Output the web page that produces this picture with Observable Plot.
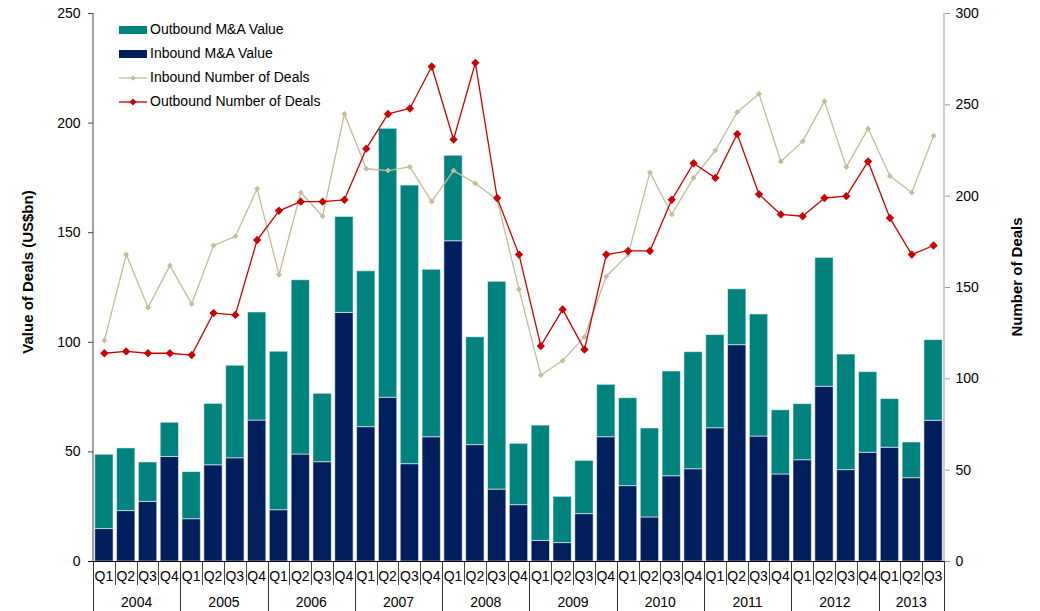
<!DOCTYPE html>
<html><head><meta charset="utf-8">
<script src="https://cdn.jsdelivr.net/npm/d3@7"></script>
<script src="https://cdn.jsdelivr.net/npm/@observablehq/plot@0.6"></script>
<style>body{margin:0;background:#fff} svg{display:block}</style>
</head><body><div id="chart"></div>
<script>
const quarterLabels = ["Q1","Q2","Q3","Q4","Q1","Q2","Q3","Q4","Q1","Q2","Q3","Q4","Q1","Q2","Q3","Q4","Q1","Q2","Q3","Q4","Q1","Q2","Q3","Q4","Q1","Q2","Q3","Q4","Q1","Q2","Q3","Q4","Q1","Q2","Q3","Q4","Q1","Q2","Q3"];
const yearLabels = ["2004","2004","2004","2004","2005","2005","2005","2005","2006","2006","2006","2006","2007","2007","2007","2007","2008","2008","2008","2008","2009","2009","2009","2009","2010","2010","2010","2010","2011","2011","2011","2011","2012","2012","2012","2012","2013","2013","2013"];
const inboundValue = [14.8,23.0,27.2,47.7,19.3,43.9,47.1,64.3,23.4,48.8,45.3,113.4,61.3,74.7,44.4,56.7,146.1,53.1,32.8,25.7,9.4,8.4,21.6,56.7,34.4,20.1,38.9,42.1,60.8,98.7,57.0,39.7,46.2,79.7,41.7,49.6,51.9,38.0,64.2];
const outboundValue = [33.9,28.6,18.0,15.6,21.5,28.0,42.2,49.3,72.3,79.5,31.2,43.8,71.1,122.7,127.1,76.4,39.0,49.2,94.8,28.0,52.6,21.1,24.3,23.9,40.1,40.6,47.8,53.4,42.5,25.5,55.7,29.3,25.6,58.8,52.7,36.8,22.2,16.3,36.8];
const inboundDeals = [121,168,139,162,141,173,178,204,157,202,189,245,215,214,216,197,214,207,198,149,102,110,123,156,168,213,190,210,225,246,256,219,230,252,216,237,211,202,233];
const outboundDeals = [114,115,114,114,113,136,135,176,192,197,197,198,226,245,248,271,231,273,199,168,118,138,116,168,170,170,198,218,210,234,201,190,189,199,200,219,188,168,173];
const leftTicks = [0,50,100,150,200,250];
const rightTicks = [0,50,100,150,200,250,300];
const seriesNames = ["Outbound M&A Value","Inbound M&A Value","Inbound Number of Deals","Outbound Number of Deals"];

const TEAL = "#00827F", NAVY = "#001F5C", TAN = "#C4BD97", RED = "#CC0000";
const FONT = "'Liberation Sans', Arial, sans-serif";
const k = 250 / 300;

const keys = quarterLabels.map((q, i) => yearLabels[i] + " " + q);
const valueRows = [];
keys.forEach((key, i) => {
  valueRows.push({key, series: seriesNames[1], value: inboundValue[i]});
  valueRows.push({key, series: seriesNames[0], value: outboundValue[i]});
});
const inRows = keys.map((key, i) => ({key, v: inboundDeals[i]}));
const outRows = keys.map((key, i) => ({key, v: outboundDeals[i]}));

function decorations(index, scales, values, dims) {
  const x = scales.x;
  const bw = typeof x.bandwidth === "function" ? x.bandwidth() : (x.bandwidth || 0);
  const centers = keys.map(kk => x(kk) + bw / 2);
  const step = centers[1] - centers[0];
  const {width, height, marginLeft, marginRight, marginTop, marginBottom} = dims;
  const xl = marginLeft, xr = width - marginRight, yb = height - marginBottom, yt = marginTop;
  const g = d3.create("svg:g").attr("font-family", FONT).attr("text-anchor", "start");
  g.append("line").attr("x1", xl).attr("x2", xl).attr("y1", yt).attr("y2", yb).attr("stroke", "#444");
  g.append("line").attr("x1", xr).attr("x2", xr).attr("y1", yt).attr("y2", yb).attr("stroke", "#999");
  keys.forEach((kk, i) => {
    const sx = Math.round(centers[i] - step / 2) + 0.5;
    const isYear = quarterLabels[i] === "Q1";
    g.append("line").attr("x1", sx).attr("x2", sx).attr("y1", yb).attr("y2", isYear ? height : yb + 24)
      .attr("stroke", isYear ? "#333" : "#444");
  });
  const endX = Math.round(centers[keys.length - 1] + step / 2) + 0.5;
  g.append("line").attr("x1", endX).attr("x2", endX).attr("y1", yb).attr("y2", height).attr("stroke", "#333");
  g.append("line").attr("x1", xl - 5).attr("x2", xr).attr("y1", yb + 0.5).attr("y2", yb + 0.5).attr("stroke", "#000");
  keys.forEach((kk, i) => {
    g.append("text").attr("x", centers[i]).attr("y", yb + 16).attr("text-anchor", "middle")
      .attr("dominant-baseline", "middle").attr("font-size", 14).attr("fill", "#000").text(quarterLabels[i]);
  });
  const uniqYears = [...new Set(yearLabels)];
  uniqYears.forEach(yr => {
    const idx = yearLabels.map((y, i) => y === yr ? i : -1).filter(i => i >= 0);
    const a = centers[idx[0]] - step / 2, b = centers[idx[idx.length - 1]] + step / 2;
    g.append("text").attr("x", (a + b) / 2).attr("y", yb + 42).attr("text-anchor", "middle")
      .attr("dominant-baseline", "middle").attr("font-size", 14).attr("fill", "#000").text(yr);
  });
  g.append("text").attr("transform", `translate(29,${(yt + yb) / 2 - 15}) rotate(-90)`)
    .attr("text-anchor", "middle").attr("dominant-baseline", "middle")
    .attr("font-size", 15).attr("font-weight", "bold").attr("fill", "#000").text("Value of Deals (US$bn)");
  g.append("text").attr("transform", `translate(1018,${(yt + yb) / 2 - 10}) rotate(-90)`)
    .attr("text-anchor", "middle").attr("dominant-baseline", "middle")
    .attr("font-size", 15).attr("font-weight", "bold").attr("fill", "#000").text("Number of Deals");
  const lx = 119, lw = 28, tx = 150;
  const rows = [30, 54, 78, 102];
  g.append("rect").attr("x", lx).attr("y", rows[0] - 4).attr("width", lw).attr("height", 8).attr("fill", TEAL);
  g.append("rect").attr("x", lx).attr("y", rows[1] - 4).attr("width", lw).attr("height", 8).attr("fill", NAVY);
  g.append("line").attr("x1", lx).attr("x2", lx + lw).attr("y1", rows[2]).attr("y2", rows[2]).attr("stroke", TAN).attr("stroke-width", 1.3);
  g.append("path").attr("d", d3.symbol(d3.symbolSquare, 14)()).attr("transform", `translate(${lx + lw / 2},${rows[2]}) rotate(45)`).attr("fill", TAN);
  g.append("line").attr("x1", lx).attr("x2", lx + lw).attr("y1", rows[3]).attr("y2", rows[3]).attr("stroke", RED).attr("stroke-width", 1.3);
  g.append("path").attr("d", d3.symbol(d3.symbolSquare, 26)()).attr("transform", `translate(${lx + lw / 2},${rows[3]}) rotate(45)`).attr("fill", RED);
  seriesNames.forEach((s, i) => {
    g.append("text").attr("x", tx).attr("y", rows[i]).attr("text-anchor", "start").attr("dominant-baseline", "middle")
      .attr("font-size", 14).attr("fill", "#000").text(s);
  });
  return g.node();
}

const chart = Plot.plot({
  width: 1040,
  height: 611,
  marginLeft: 93,
  marginRight: 96,
  marginTop: 13,
  marginBottom: 50,
  style: {fontFamily: FONT, fontSize: "14px", background: "#fff", color: "#000"},
  x: {type: "band", domain: keys, paddingInner: 0.16, paddingOuter: 0.08, axis: null},
  y: {domain: [0, 250], axis: null},
  color: {domain: [seriesNames[0], seriesNames[1]], range: [TEAL, NAVY]},
  marks: [
    Plot.barY(valueRows, {x: "key", y: "value", fill: "series", order: [seriesNames[1], seriesNames[0]],
      stroke: "#ffffff", strokeOpacity: 0.55, strokeWidth: 1}),
    Plot.line(inRows, {x: "key", y: d => d.v * k, stroke: TAN, strokeWidth: 1.3}),
    Plot.dot(inRows, {x: "key", y: d => d.v * k, symbol: "diamond2", r: 2.2, fill: TAN, stroke: TAN, strokeWidth: 1}),
    Plot.line(outRows, {x: "key", y: d => d.v * k, stroke: RED, strokeWidth: 1.3}),
    Plot.dot(outRows, {x: "key", y: d => d.v * k, symbol: "diamond2", r: 3, fill: RED, stroke: RED, strokeWidth: 1.2}),
    Plot.axisY(leftTicks, {anchor: "left", tickSize: 5, tickPadding: 8, fontSize: 14, label: null, stroke: "#444"}),
    Plot.axisY(rightTicks.map(v => v * k), {anchor: "right", tickSize: 5, tickPadding: 6, fontSize: 14, label: null,
      stroke: "#999", tickFormat: d => String(Math.round(d / k))}),
    decorations
  ]
});
document.getElementById("chart").appendChild(chart);
</script>
</body></html>
